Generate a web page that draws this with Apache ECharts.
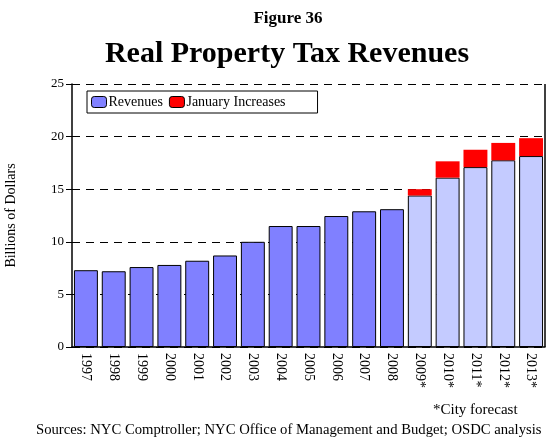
<!DOCTYPE html>
<html>
<head>
    <meta charset="utf-8">
    <title>Real Property Tax Revenues</title>
    <script src="https://cdn.jsdelivr.net/npm/echarts@6/dist/echarts.min.js"></script>
    <style>
        body { margin: 0; background: #fff; }
        #main { width: 550px; height: 438px; }
    </style>
</head>
<body>
<div id="main"></div>
<script type="text/javascript">
    // data (billions of dollars)
    var years = ['1997','1998','1999','2000','2001','2002','2003','2004','2005','2006','2007','2008',
                 '2009*','2010*','2011*','2012*','2013*'];
    var revenues = [7.3, 7.2, 7.6, 7.8, 8.2, 8.7, 10.0, 11.5, 11.5, 12.45, 12.9, 13.1,
                    14.4, 16.1, 17.1, 17.75, 18.15];
    var janIncreases = [null, null, null, null, null, null, null, null, null, null, null, null,
                        0.6, 1.55, 1.65, 1.65, 1.7];
    var forecastFrom = 12;   // index where the city forecast starts
    var yTicks = [0, 5, 10, 15, 20, 25];

    var serif = '"Liberation Serif", "DejaVu Serif", serif';
    var myChart = echarts.init(document.getElementById('main'));

    var revData = revenues.map(function (v, i) {
        return {
            value: v,
            itemStyle: { color: i >= forecastFrom ? '#C4CBFF' : '#8080FF' }
        };
    });

    var option = {
        backgroundColor: '#fff',
        animation: false,
        textStyle: { fontFamily: serif, color: '#000' },
        title: [
            { text: 'Figure 36', left: 283, top: 5, textAlign: 'center',
              textStyle: { fontFamily: serif, fontSize: 17, fontWeight: 'bold', color: '#000' } },
            { text: 'Real Property Tax Revenues', left: 282, top: 34, textAlign: 'center',
              textStyle: { fontFamily: serif, fontSize: 30, fontWeight: 'bold', color: '#000' } }
        ],
        legend: {
            left: 87, top: 91,
            width: 230,
            padding: [4, 32, 4, 4],
            borderColor: '#000', borderWidth: 1,
            itemWidth: 15, itemHeight: 11, itemGap: 6,
            textStyle: { fontFamily: serif, fontSize: 14, color: '#000', padding: [0, 0, 0, -3] },
            data: [
                { name: 'Revenues', itemStyle: { color: '#8080FF', borderColor: '#000', borderWidth: 1 } },
                { name: 'January Increases', itemStyle: { color: '#FF0000', borderColor: '#000', borderWidth: 1 } }
            ]
        },
        graphic: [
            { type: 'text', left: 433, top: 403,
              style: { text: '*City forecast', font: '15px ' + serif, fill: '#000' } },
            { type: 'text', left: 36, top: 423,
              style: { text: 'Sources: NYC Comptroller; NYC Office of Management and Budget; OSDC analysis',
                       font: '14.7px ' + serif, fill: '#000' } },
            // right border of the plot
            { type: 'line', shape: { x1: 545, y1: 84, x2: 545, y2: 347 },
              style: { stroke: '#000', lineWidth: 1.5 } }
        ],
        grid: { left: 72, right: 5, top: 84, bottom: 91, outerBoundsMode: 'none', containLabel: false },
        xAxis: {
            type: 'category',
            data: years,
            axisLine: { lineStyle: { color: '#000', width: 1.5 } },
            axisTick: { alignWithLabel: true, length: 5, lineStyle: { color: '#000' } },
            axisLabel: { rotate: -90, fontFamily: serif, fontSize: 14, color: '#000', margin: 6 }
        },
        yAxis: [{
            type: 'value',
            min: yTicks[0], max: yTicks[yTicks.length - 1], interval: 5,
            name: 'Billions of Dollars',
            nameLocation: 'middle',
            nameGap: 54,
            nameTextStyle: { fontFamily: serif, fontSize: 14, color: '#000' },
            axisLine: { show: true, lineStyle: { color: '#000', width: 1.5 } },
            axisTick: { show: true, length: 6, lineStyle: { color: '#000' } },
            axisLabel: { fontFamily: serif, fontSize: 13, color: '#000', margin: 8 },
            splitLine: { show: true, lineStyle: { color: '#000', type: [8, 6], width: 1 } }
        }, {
            // inner half of the crossing ticks
            type: 'value', position: 'left',
            min: yTicks[0], max: yTicks[yTicks.length - 1], interval: 5,
            axisLine: { show: false },
            axisTick: { show: true, inside: true, length: 5, lineStyle: { color: '#000' } },
            axisLabel: { show: false },
            splitLine: { show: false }
        }],
        series: [{
            name: 'Revenues',
            type: 'bar',
            stack: 'rev',
            barCategoryGap: '14%',
            itemStyle: { borderColor: '#000', borderWidth: 1 },
            data: revData
        }, {
            name: 'January Increases',
            type: 'bar',
            stack: 'rev',
            itemStyle: { color: '#FF0000', borderColor: '#FF0000', borderWidth: 0 },
            data: janIncreases
        }]
    };

    myChart.setOption(option);
</script>
</body>
</html>
